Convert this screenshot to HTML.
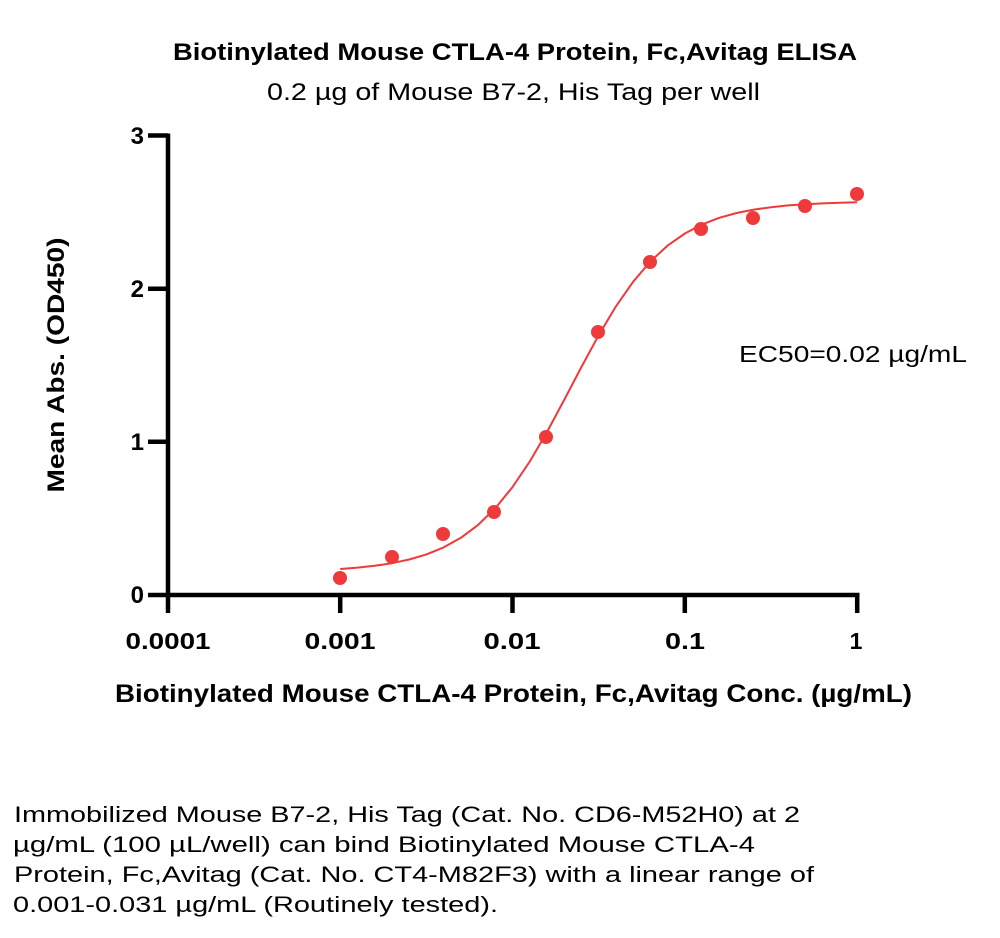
<!DOCTYPE html>
<html>
<head>
<meta charset="utf-8">
<style>
  html, body { margin: 0; padding: 0; background: #ffffff; }
  svg { display: block; }
  text { font-family: "Liberation Sans", "DejaVu Sans", sans-serif; fill: #000; }
  .b { font-weight: bold; }
</style>
</head>
<body>
<svg width="1000" height="938" viewBox="0 0 1000 938" xmlns="http://www.w3.org/2000/svg">
  <rect x="0" y="0" width="1000" height="938" fill="#ffffff"/>

  <!-- Titles -->
  <text class="b" x="173" y="60" font-size="24" textLength="684" lengthAdjust="spacingAndGlyphs">Biotinylated Mouse CTLA-4 Protein, Fc,Avitag ELISA</text>
  <text x="267" y="100" font-size="24" textLength="493" lengthAdjust="spacingAndGlyphs">0.2 µg of Mouse B7-2, His Tag per well</text>

  <!-- Axes -->
  <g stroke="#000" stroke-width="4.5" fill="none">
    <line x1="168" y1="133.5" x2="168" y2="613"/>
    <line x1="148" y1="595" x2="859.5" y2="595"/>
    <!-- y ticks -->
    <line x1="148" y1="135.5" x2="168" y2="135.5"/>
    <line x1="148" y1="288.7" x2="168" y2="288.7"/>
    <line x1="148" y1="441.8" x2="168" y2="441.8"/>
    <!-- x ticks -->
    <line x1="340.2" y1="595" x2="340.2" y2="613"/>
    <line x1="512.5" y1="595" x2="512.5" y2="613"/>
    <line x1="684.8" y1="595" x2="684.8" y2="613"/>
    <line x1="857.2" y1="595" x2="857.2" y2="613"/>
  </g>

  <!-- Y tick labels -->
  <g class="b" font-size="24" text-anchor="end">
    <text class="b" x="144" y="144">3</text>
    <text class="b" x="144" y="297">2</text>
    <text class="b" x="144" y="450">1</text>
    <text class="b" x="144" y="603">0</text>
  </g>

  <!-- X tick labels -->
  <g font-size="23" text-anchor="middle">
    <text class="b" x="168" y="649" textLength="85" lengthAdjust="spacingAndGlyphs">0.0001</text>
    <text class="b" x="340" y="649" textLength="71" lengthAdjust="spacingAndGlyphs">0.001</text>
    <text class="b" x="512" y="649" textLength="57" lengthAdjust="spacingAndGlyphs">0.01</text>
    <text class="b" x="685" y="649" textLength="40" lengthAdjust="spacingAndGlyphs">0.1</text>
    <text class="b" x="856" y="649">1</text>
  </g>

  <!-- Axis titles -->
  <text class="b" x="115" y="702" font-size="25" textLength="797" lengthAdjust="spacingAndGlyphs">Biotinylated Mouse CTLA-4 Protein, Fc,Avitag Conc. (µg/mL)</text>
  <text class="b" x="0" y="0" font-size="24" text-anchor="middle" transform="translate(64,365) rotate(-90)" textLength="255" lengthAdjust="spacingAndGlyphs">Mean Abs. (OD450)</text>

  <!-- Fitted curve -->
  <polyline fill="none" stroke="#ee3a3a" stroke-width="2" stroke-linejoin="round"
    points="340.2,569.0 357.5,567.6 374.7,565.8 391.9,563.2 409.2,559.5 426.4,554.4 443.6,547.4 460.9,537.8 478.1,524.9 495.3,508.2 512.5,487.1 529.8,461.5 547.0,432.0 564.2,399.9 581.5,366.9 598.7,335.2 615.9,306.4 633.2,281.7 650.4,261.5 667.6,245.6 684.9,233.5 702.1,224.4 719.3,217.8 736.6,213.0 753.8,209.6 771.0,207.2 788.3,205.4 805.5,204.2 822.7,203.4 840.0,202.8 857.2,202.3"/>

  <!-- Data points -->
  <g fill="#ee3a3a">
    <circle cx="340" cy="578" r="7"/>
    <circle cx="392" cy="557" r="7"/>
    <circle cx="443" cy="534" r="7"/>
    <circle cx="494" cy="512" r="7"/>
    <circle cx="546" cy="437" r="7"/>
    <circle cx="598" cy="332" r="7"/>
    <circle cx="650" cy="262" r="7"/>
    <circle cx="701" cy="229" r="7"/>
    <circle cx="753" cy="218" r="7"/>
    <circle cx="805" cy="206" r="7"/>
    <circle cx="857" cy="194" r="7"/>
  </g>

  <!-- EC50 annotation -->
  <text x="739" y="362" font-size="23" textLength="228" lengthAdjust="spacingAndGlyphs">EC50=0.02 µg/mL</text>

  <!-- Description paragraph -->
  <g font-size="22">
    <text x="14" y="822" textLength="786" lengthAdjust="spacingAndGlyphs">Immobilized Mouse B7-2, His Tag (Cat. No. CD6-M52H0) at 2</text>
    <text x="13" y="852" textLength="742" lengthAdjust="spacingAndGlyphs">µg/mL (100 µL/well) can bind Biotinylated Mouse CTLA-4</text>
    <text x="14" y="882" textLength="800" lengthAdjust="spacingAndGlyphs">Protein, Fc,Avitag (Cat. No. CT4-M82F3) with a linear range of</text>
    <text x="13" y="912" textLength="485" lengthAdjust="spacingAndGlyphs">0.001-0.031 µg/mL (Routinely tested).</text>
  </g>
</svg>
</body>
</html>
